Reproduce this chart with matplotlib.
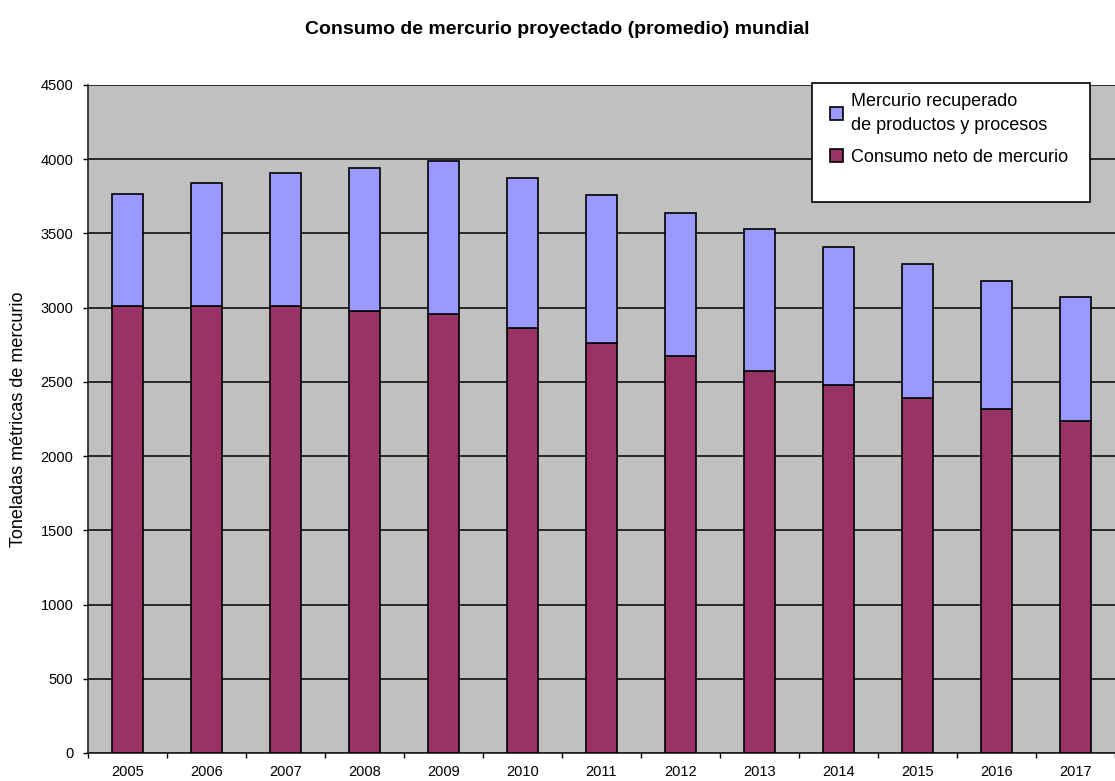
import matplotlib
matplotlib.use("Agg")
import matplotlib.pyplot as plt
from matplotlib.patches import Rectangle
import numpy as np

plt.rcParams["font.family"] = ["Liberation Sans", "DejaVu Sans"]

# Projected world mercury consumption (tonnes)
years = ["2005", "2006", "2007", "2008", "2009", "2010", "2011",
         "2012", "2013", "2014", "2015", "2016", "2017"]
net_consumption = [3010, 3010, 3010, 2977, 2957, 2861, 2764,
                   2672, 2576, 2481, 2389, 2315, 2234]
total = [3765, 3838, 3908, 3944, 3990, 3872, 3757,
         3638, 3530, 3411, 3294, 3180, 3072]
recovered = [t - n for t, n in zip(total, net_consumption)]

purple = "#993366"
blue = "#9999FF"

W, H = 1115, 781
fig = plt.figure(figsize=(W / 100, H / 100), dpi=100)
ax = fig.add_axes([88 / W, 28 / H, 1 - 88 / W, 668 / H])
ax.set_facecolor("#C0C0C0")

x = np.arange(len(years))
w = 0.39
b1 = ax.bar(x, net_consumption, w, color=purple, edgecolor="black", linewidth=1.2, zorder=3)
b2 = ax.bar(x, recovered, w, bottom=net_consumption, color=blue, edgecolor="black",
            linewidth=1.2, zorder=3)

ax.set_ylim(0, 4500)
ax.set_yticks(np.arange(0, 4501, 500))
ax.yaxis.grid(True, color="black", linewidth=1.1, zorder=1)
ax.set_xlim(-0.5, (W - 88) / 80.75 - 0.5)

# ticks between categories, labels under bars
ax.set_xticks(np.arange(-0.5, 13, 1))
ax.set_xticklabels([])
ax.set_xticks(x, minor=True)
ax.set_xticklabels(years, minor=True, fontsize=10.5)
ax.tick_params(axis="x", which="minor", length=0, pad=9)
ax.tick_params(axis="x", which="major", direction="out", length=3.5, width=1)
ax.tick_params(axis="y", direction="out", length=3.5, width=1, labelsize=10.5, pad=7)

for s in ["top", "right"]:
    ax.spines[s].set_visible(False)
ax.spines["left"].set_color("#202020")
ax.spines["bottom"].set_color("#202020")
ax.spines["left"].set_linewidth(1.2)
ax.spines["bottom"].set_linewidth(1.2)

ax.set_ylabel("Toneladas métricas de mercurio", fontsize=13, labelpad=10)

fig.text(0.5, 1 - 30 / H, "Consumo de mercurio proyectado (promedio) mundial",
         ha="center", va="center", fontsize=14, fontweight="bold")

# legend box drawn separately (the original has a lot of empty space in it)
box = Rectangle((812 / W, 1 - 202 / H), 278 / W, 119 / H, transform=fig.transFigure,
                facecolor="white", edgecolor="black", linewidth=1.2,
                clip_on=False, zorder=4)
ax.add_patch(box)
leg = ax.legend([b2, b1], ["Mercurio recuperado\nde productos y procesos",
                           "Consumo neto de mercurio"],
                loc="upper left", bbox_to_anchor=(830 / W, 1 - 93 / H),
                bbox_transform=fig.transFigure, borderaxespad=0, borderpad=0,
                frameon=False, fontsize=13, handlelength=0.7, handleheight=0.7,
                handletextpad=0.45, labelspacing=0.85)
leg.get_texts()[0].set_linespacing(1.5)
leg.set_zorder(5)

fig.savefig("out.png", dpi=100)
